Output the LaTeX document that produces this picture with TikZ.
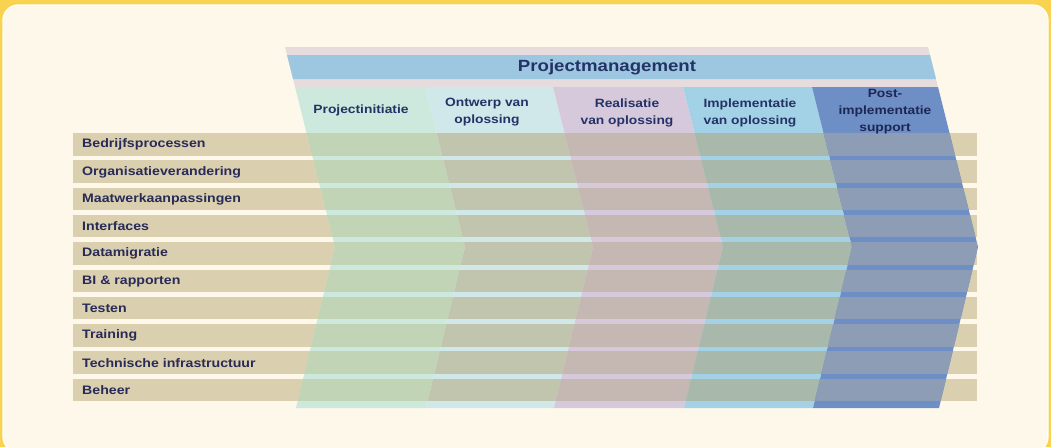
\documentclass[tikz,border=0pt]{standalone}
\usepackage{fontspec}
\newfontfamily\chartfont[FakeStretch=1.15]{Liberation Sans}
\usepackage{xcolor}
\usepackage{tikz}
\definecolor{frameyellow}{RGB}{249,210,79}
\definecolor{paper}{RGB}{254,248,234}
\definecolor{rowtan}{RGB}{218,207,174}
\definecolor{labelnavy}{RGB}{40,42,88}
\definecolor{headnavy}{RGB}{36,50,102}
\definecolor{bandgrey}{RGB}{230,219,221}
\definecolor{bandblue}{RGB}{157,199,225}
% phase colours: column itself / column over a row
\definecolor{phA}{RGB}{205,232,221}
\definecolor{phArow}{RGB}{193,212,182}
\definecolor{phB}{RGB}{208,232,234}
\definecolor{phBrow}{RGB}{194,197,174}
\definecolor{phC}{RGB}{215,201,220}
\definecolor{phCrow}{RGB}{197,184,178}
\definecolor{phD}{RGB}{163,210,230}
\definecolor{phDrow}{RGB}{168,184,171}
\definecolor{phE}{RGB}{110,142,198}
\definecolor{phErow}{RGB}{140,157,181}

\begin{document}
\begin{tikzpicture}[x=1pt,y=-1pt,
    rowlabel/.style={anchor=west, inner sep=0pt, text=labelnavy,
        font=\chartfont\bfseries\fontsize{12.3}{14}\selectfont},
    phasehead/.style={align=center, inner sep=0pt, text=headnavy,
        font=\chartfont\bfseries\fontsize{12}{17}\selectfont},
]
\useasboundingbox (0,0) rectangle (1051,447);

% frame
\fill[frameyellow] (0,0) rectangle (1051,447);
\draw[white, line width=1.2pt, fill=paper, rounded corners=15pt] (3,5) rectangle (1048,452);

% rows (y top = 133 + 27.3*i)
\foreach \i in {0,...,9}
    \fill[rowtan] (73,{133+27.3*\i}) rectangle (977,{155.5+27.3*\i});

% projectmanagement band
\fill[bandgrey] (285,47) -- (928,47) -- (938,87) -- (295,87) -- cycle;
\fill[bandblue] (287,55) -- (930,55) -- (936,79) -- (293,79) -- cycle;
\node[font=\chartfont\bfseries\fontsize{16.2}{18}\selectfont, text=headnavy] (pm) at (607,67.5) {Projectmanagement};

% phase chevrons
\foreach \xl/\xr/\colc/\rowc in {295/425/phA/phArow, 425/553/phB/phBrow,
        553/683/phC/phCrow, 683/812/phD/phDrow, 812/938/phE/phErow}{
    \begin{scope}
        \clip (\xl,87) -- (\xr,87) -- ({\xr+40},247) -- ({\xr+1},408)
            -- ({\xl+1},408) -- ({\xl+40},247) -- cycle;
        \fill[\colc] (\xl,80) rectangle ({\xr+45},410);
        \foreach \i in {0,...,9}
            \fill[\rowc] (73,{133+27.3*\i}) rectangle (977,{155.5+27.3*\i});
    \end{scope}
}

% phase headings
\node[phasehead] (ph1) at (361,110.5) {Projectinitiatie};
\node[phasehead] (ph2) at (487,112) {Ontwerp van\\oplossing};
\node[phasehead] (ph3) at (627,112.5) {Realisatie\\van oplossing};
\node[phasehead] (ph4) at (750,112.5) {Implementatie\\van oplossing};
\node[phasehead, text=headnavy!80!black] (ph5) at (885,111.5) {Post-\\implementatie\\support};

% row labels
\foreach \i/\txt in {0/Bedrijfsprocessen, 1/Organisatieverandering,
        2/Maatwerkaanpassingen, 3/Interfaces, 4/Datamigratie,
        5/BI \& rapporten, 6/Testen, 7/Training,
        8/Technische infrastructuur, 9/Beheer}
    \node[rowlabel] (lbl\i) at (82,{144.6+27.3*\i}) {\txt};

\end{tikzpicture}
\end{document}
